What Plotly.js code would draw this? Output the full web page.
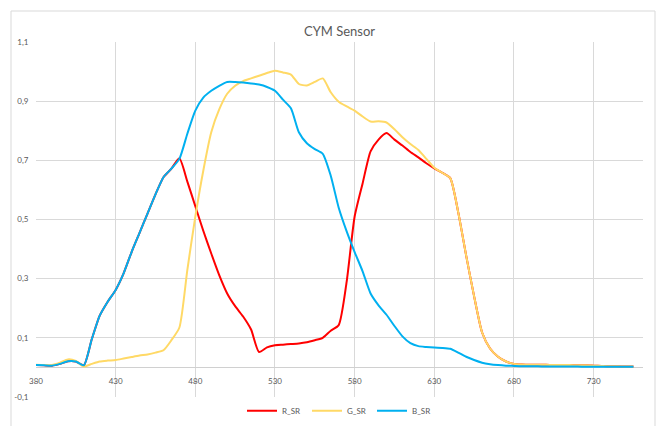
<!DOCTYPE html>
<html>
<head>
<meta charset="utf-8">
<script src="https://cdn.plot.ly/plotly-3.0.1.min.js"></script>
<style>html,body{margin:0;padding:0;background:#fff;}#chart{width:659px;height:426px;}</style>
</head>
<body>
<div id="chart"></div>
<script>
const wavelengths = [380,385,390,395,400,405,410,415,420,425,430,435,440,445,450,455,460,465,470,475,480,485,490,495,500,505,510,515,520,525,530,535,540,545,550,555,560,565,570,575,580,585,590,595,600,605,610,615,620,625,630,635,640,645,650,655,660,665,670,675,680,685,690,695,700,705,710,715,720,725,730,735,740,745,750,755];

const R_SR = [0.008,0.007,0.006,0.012,0.021,0.020,0.007,0.095,0.175,0.222,0.262,0.318,0.390,0.455,0.520,0.585,0.643,0.672,0.707,0.628,0.545,0.462,0.385,0.312,0.250,0.207,0.172,0.128,0.052,0.068,0.075,0.077,0.079,0.081,0.085,0.092,0.100,0.124,0.143,0.290,0.510,0.622,0.730,0.770,0.792,0.770,0.750,0.728,0.710,0.690,0.673,0.658,0.640,0.525,0.378,0.240,0.118,0.064,0.036,0.020,0.012,0.010,0.009,0.009,0.009,0.008,0.008,0.008,0.007,0.007,0.006,0.005,0.004,0.004,0.003,0.003];

const G_SR = [0.009,0.008,0.008,0.016,0.027,0.022,0.003,0.012,0.020,0.023,0.025,0.030,0.035,0.040,0.044,0.050,0.058,0.092,0.135,0.330,0.510,0.665,0.795,0.872,0.925,0.952,0.968,0.977,0.986,0.995,1.003,0.997,0.990,0.958,0.953,0.965,0.977,0.930,0.898,0.882,0.868,0.848,0.831,0.832,0.828,0.805,0.778,0.755,0.735,0.705,0.675,0.658,0.640,0.525,0.378,0.240,0.118,0.064,0.036,0.020,0.012,0.010,0.009,0.009,0.009,0.008,0.008,0.008,0.007,0.007,0.006,0.005,0.004,0.004,0.003,0.003];

const B_SR = [0.008,0.007,0.006,0.012,0.021,0.020,0.007,0.095,0.175,0.222,0.262,0.318,0.390,0.455,0.520,0.585,0.643,0.672,0.705,0.790,0.868,0.912,0.935,0.952,0.965,0.965,0.963,0.960,0.956,0.948,0.935,0.905,0.876,0.795,0.758,0.738,0.722,0.648,0.540,0.460,0.390,0.325,0.250,0.210,0.178,0.140,0.105,0.082,0.072,0.069,0.067,0.066,0.063,0.050,0.036,0.025,0.016,0.011,0.008,0.006,0.005,0.004,0.004,0.004,0.003,0.003,0.003,0.003,0.003,0.002,0.002,0.002,0.002,0.002,0.002,0.002];

const seriesNames = ["R_SR","G_SR","B_SR"];
const xTickVals = [380,430,480,530,580,630,680,730];
const xTickText = ["380","430","480","530","580","630","680","730"];
const yTickVals = [-0.1,0.1,0.3,0.5,0.7,0.9,1.1];
const yTickText = ["-0,1","0,1","0,3","0,5","0,7","0,9","1,1"];

const colors = ["#FF0000","#FFD966","#00B0F0"];
const ys = [R_SR, G_SR, B_SR];
const traces = ys.map((y,i)=>({
  x: wavelengths, y: y, name: seriesNames[i], type: "scatter", mode: "lines",
  line: {color: colors[i], width: 2, shape: "spline", smoothing: 0.6}
}));

const fontFam = "Lato, 'Open Sans', sans-serif";
const layout = {
  width: 659, height: 426,
  margin: {l: 36, r: 16, t: 42, b: 29, autoexpand: false},
  paper_bgcolor: "#ffffff", plot_bgcolor: "#ffffff",
  font: {family: fontFam, color: "#595959", size: 8},
  title: {text: "CYM Sensor", font: {family: fontFam, size: 13, color: "#595959"}, x: 0.5, xref: "paper", y: 1 - 31/426, yanchor: "middle"},
  xaxis: {
    range: [380, 761], tickmode: "array", tickvals: xTickVals, ticktext: xTickText,
    showgrid: true, gridcolor: "#d9d9d9", gridwidth: 1, zeroline: false, showline: false,
    anchor: "free", position: 0.1/1.2, ticks: "outside", ticklen: 6, tickcolor: "rgba(0,0,0,0)",
    tickfont: {size: 8, color: "#595959"}
  },
  yaxis: {
    range: [-0.1, 1.1], tickmode: "array", tickvals: yTickVals, ticktext: yTickText,
    showgrid: true, gridcolor: "#d9d9d9", gridwidth: 1,
    zeroline: true, zerolinecolor: "#d0d0d0", zerolinewidth: 1.5,
    showline: false, ticks: "outside", ticklen: 5, tickcolor: "rgba(0,0,0,0)",
    tickfont: {size: 8, color: "#595959"}
  },
  showlegend: true,
  legend: {orientation: "h", x: 0.5, xanchor: "center", y: -0.039, yanchor: "middle",
    font: {size: 8, color: "#595959"}, bgcolor: "rgba(0,0,0,0)", itemwidth: 30, entrywidth: 20},
  shapes: [{type: "rect", xref: "paper", yref: "paper", x0: -25/607, x1: 619/607, y0: -40/355, y1: 386/355,
    line: {color: "#d9d9d9", width: 1}, fillcolor: "rgba(0,0,0,0)", layer: "below"}]
};

Plotly.newPlot("chart", traces, layout, {displayModeBar: false, staticPlot: true});
</script>
</body>
</html>
